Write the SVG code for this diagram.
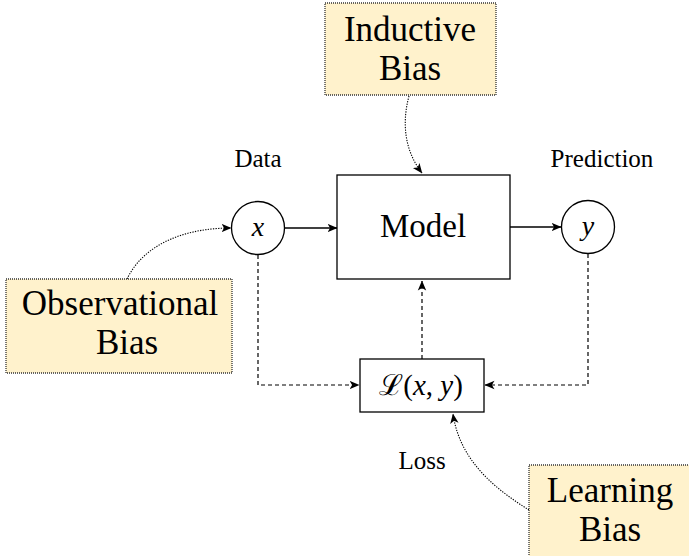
<svg xmlns="http://www.w3.org/2000/svg" width="689" height="556" viewBox="0 0 689 556">
<defs>
<style>
.bias{fill:#FFF2CC;stroke:#333;stroke-width:1.3;stroke-dasharray:1 1}
.box{fill:#fff;stroke:#000;stroke-width:1.3}
.t{font-family:'Liberation Serif','DejaVu Serif',serif;fill:#000;text-anchor:middle}
.i{font-style:italic}
.big{font-size:35px}
.small{font-size:25px}
.solid{fill:none;stroke:#000;stroke-width:1.3}
.dash{fill:none;stroke:#000;stroke-width:1.2;stroke-dasharray:4 3}
.dot{fill:none;stroke:#000;stroke-width:1.1;stroke-dasharray:1.3 1.3}
</style>
<marker id="ah" viewBox="0 0 10 10" refX="9.5" refY="5" markerWidth="10" markerHeight="10" markerUnits="userSpaceOnUse" orient="auto">
<path d="M0,0.8 L10,5 L0,9.2 L2.6,5 Z" fill="#000"/>
</marker>
</defs>
<g id="connectors">
<path class="solid" d="M285,228 L337,228" marker-end="url(#ah)"/>
<path class="solid" d="M510,227 L561,227" marker-end="url(#ah)"/>
<path class="dash" d="M258,255 L258,385 L359,385" marker-end="url(#ah)"/>
<path class="dash" d="M588,254 L588,385 L485,385" marker-end="url(#ah)"/>
<path class="dash" d="M422,359 L422,281" marker-end="url(#ah)"/>
<path class="dot" d="M409,96 C402,122 404,150 422,173" marker-end="url(#ah)"/>
<path class="dot" d="M127,279 C145,242 188,228 231,228" marker-end="url(#ah)"/>
<path class="dot" d="M529,510 C497,490 460,462 453,414" marker-end="url(#ah)"/>
</g>
<g id="inductive-bias">
<rect class="bias" x="325" y="3" width="171" height="92"/>
<text class="t big" x="410" y="41">Inductive</text>
<text class="t big" x="410" y="80">Bias</text>
</g>
<g id="observational-bias">
<rect class="bias" x="6" y="279" width="226" height="94"/>
<text class="t big" x="120" y="315">Observational</text>
<text class="t big" x="127" y="354">Bias</text>
</g>
<g id="learning-bias">
<rect class="bias" x="529" y="465" width="170" height="100"/>
<text class="t big" x="610" y="502">Learning</text>
<text class="t big" x="610" y="541">Bias</text>
</g>
<g id="model">
<rect class="box" x="337" y="175" width="173" height="104"/>
<text class="t" x="423" y="237" font-size="33">Model</text>
</g>
<g id="x">
<circle class="box" cx="258" cy="228" r="26.5"/>
<text class="t i" x="258" y="236" font-size="28">x</text>
<text class="t small" x="258" y="167">Data</text>
</g>
<g id="y">
<circle class="box" cx="588" cy="227" r="26.5"/>
<text class="t i" x="588" y="235" font-size="28">y</text>
<text class="t small" x="602" y="167">Prediction</text>
</g>
<g id="loss">
<rect class="box" x="360" y="359" width="124" height="53"/>
<text class="t" x="421" y="395" font-size="29">ℒ(<tspan class="i">x</tspan>, <tspan class="i">y</tspan>)</text>
<text class="t small" x="422" y="469">Loss</text>
</g>
</svg>
